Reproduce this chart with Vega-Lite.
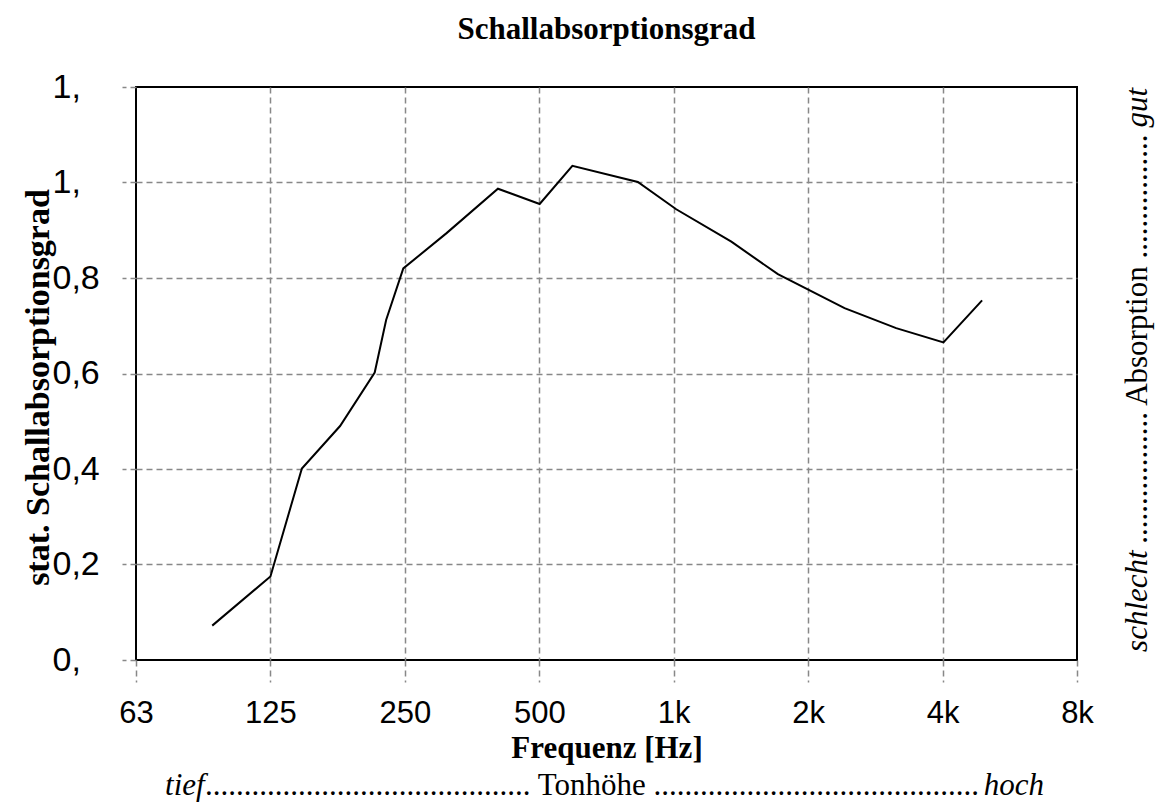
{
  "$schema": "https://vega.github.io/schema/vega-lite/v6.json",
  "width": 941,
  "height": 573,
  "autosize": {"type": "none"},
  "padding": {"left": 136, "top": 87, "right": 80, "bottom": 142},
  "background": "white",
  "config": {
    "view": {"stroke": "black", "strokeWidth": 2},
    "axis": {"labelColor": "black", "titleColor": "black", "domain": false}
  },
  "title": {
    "text": "Schallabsorptionsgrad",
    "font": "Liberation Serif",
    "fontSize": 31,
    "fontWeight": "bold",
    "color": "black",
    "anchor": "middle",
    "offset": 24
  },
  "layer": [
    {
      "data": {
        "values": [
          {"f": 92.6, "a": 0.072},
          {"f": 125, "a": 0.175},
          {"f": 147, "a": 0.401},
          {"f": 179, "a": 0.49},
          {"f": 214, "a": 0.602},
          {"f": 227, "a": 0.712},
          {"f": 248, "a": 0.82},
          {"f": 310, "a": 0.894},
          {"f": 404, "a": 0.987},
          {"f": 501, "a": 0.955},
          {"f": 593, "a": 1.035},
          {"f": 831, "a": 1.001},
          {"f": 1013, "a": 0.944},
          {"f": 1346, "a": 0.876},
          {"f": 1711, "a": 0.808},
          {"f": 2413, "a": 0.737},
          {"f": 3149, "a": 0.695},
          {"f": 4018, "a": 0.665},
          {"f": 4904, "a": 0.753}
        ]
      },
      "mark": {"type": "line", "color": "black", "strokeWidth": 2},
      "encoding": {
        "x": {
          "field": "f",
          "type": "quantitative",
          "scale": {"type": "log", "base": 2, "domain": [62.5, 8000], "nice": false},
          "axis": {
            "values": [62.5, 125, 250, 500, 1000, 2000, 4000, 8000],
            "labelExpr": "datum.value == 62.5 ? '63' : datum.value >= 1000 ? (datum.value / 1000) + 'k' : '' + datum.value",
            "labelFont": "Liberation Sans",
            "labelFontSize": 31,
            "labelFlush": false,
            "labelOverlap": false,
            "labelPadding": 16,
            "tickSize": 22,
            "tickDash": [6, 4],
            "tickColor": "#888888",
            "tickWidth": 1.5,
            "grid": true,
            "gridDash": [6, 4],
            "gridColor": "#888888",
            "gridWidth": 1.5,
            "gridOpacity": {"condition": {"test": "datum.value <= 62.5 || datum.value >= 8000", "value": 0}, "value": 1},
            "title": "Frequenz [Hz]",
            "titleFont": "Liberation Serif",
            "titleFontSize": 31,
            "titleFontWeight": "bold",
            "titleBaseline": "alphabetic",
            "titleY": 97
          }
        },
        "y": {
          "field": "a",
          "type": "quantitative",
          "scale": {"domain": [0, 1.2], "nice": false, "zero": false},
          "axis": {
            "values": [0, 0.2, 0.4, 0.6, 0.8, 1, 1.2],
            "labelExpr": "datum.value == 0 ? '0,' : datum.value > 0.95 ? '1,' : replace(format(datum.value, '.1f'), '.', ',')",
            "labelFont": "Liberation Sans",
            "labelFontSize": 34,
            "labelAlign": "left",
            "labelPadding": 70,
            "labelFlush": false,
            "labelOverlap": false,
            "tickSize": 14,
            "tickDash": [6, 4],
            "tickColor": "#888888",
            "tickWidth": 1.5,
            "grid": true,
            "gridDash": [6, 4],
            "gridColor": "#888888",
            "gridWidth": 1.5,
            "gridOpacity": {"condition": {"test": "datum.value <= 0 || datum.value >= 1.2", "value": 0}, "value": 1},
            "title": "stat. Schallabsorptionsgrad",
            "titleFont": "Liberation Serif",
            "titleFontSize": 34,
            "titleFontWeight": "bold",
            "titleAngle": 270,
            "titleAlign": "center",
            "titleBaseline": "middle",
            "titleX": -98,
            "titleY": 300
          }
        }
      }
    },
    {
      "data": {"values": [{"t": "tief"}]},
      "mark": {"type": "text", "font": "Liberation Serif", "fontSize": 31, "fontStyle": "italic", "align": "left", "baseline": "alphabetic", "color": "black"},
      "encoding": {"x": {"datum": 72.6}, "y": {"datum": -0.283}, "text": {"field": "t"}}
    },
    {
      "data": {"values": [{"t": ".......................................... Tonhöhe .......................................... "}]},
      "mark": {"type": "text", "font": "Liberation Serif", "fontSize": 31, "align": "left", "baseline": "alphabetic", "color": "black"},
      "encoding": {"x": {"datum": 89.2}, "y": {"datum": -0.283}, "text": {"field": "t"}}
    },
    {
      "data": {"values": [{"t": "hoch"}]},
      "mark": {"type": "text", "font": "Liberation Serif", "fontSize": 31, "fontStyle": "italic", "align": "right", "baseline": "alphabetic", "color": "black"},
      "encoding": {"x": {"datum": 6749}, "y": {"datum": -0.283}, "text": {"field": "t"}}
    },
    {
      "data": {"values": [{"t": "schlecht"}]},
      "mark": {"type": "text", "font": "Liberation Serif", "fontSize": 31, "fontStyle": "italic", "align": "left", "baseline": "middle", "angle": 270, "color": "black"},
      "encoding": {"x": {"datum": 10957}, "y": {"datum": 0.017}, "text": {"field": "t"}}
    },
    {
      "data": {"values": [{"t": " ................. Absorption ................ "}]},
      "mark": {"type": "text", "font": "Liberation Serif", "fontSize": 31, "align": "center", "baseline": "middle", "angle": 270, "color": "black"},
      "encoding": {"x": {"datum": 10957}, "y": {"datum": 0.672}, "text": {"field": "t"}}
    },
    {
      "data": {"values": [{"t": "gut"}]},
      "mark": {"type": "text", "font": "Liberation Serif", "fontSize": 31, "fontStyle": "italic", "align": "right", "baseline": "middle", "angle": 270, "color": "black"},
      "encoding": {"x": {"datum": 10957}, "y": {"datum": 1.198}, "text": {"field": "t"}}
    }
  ]
}
